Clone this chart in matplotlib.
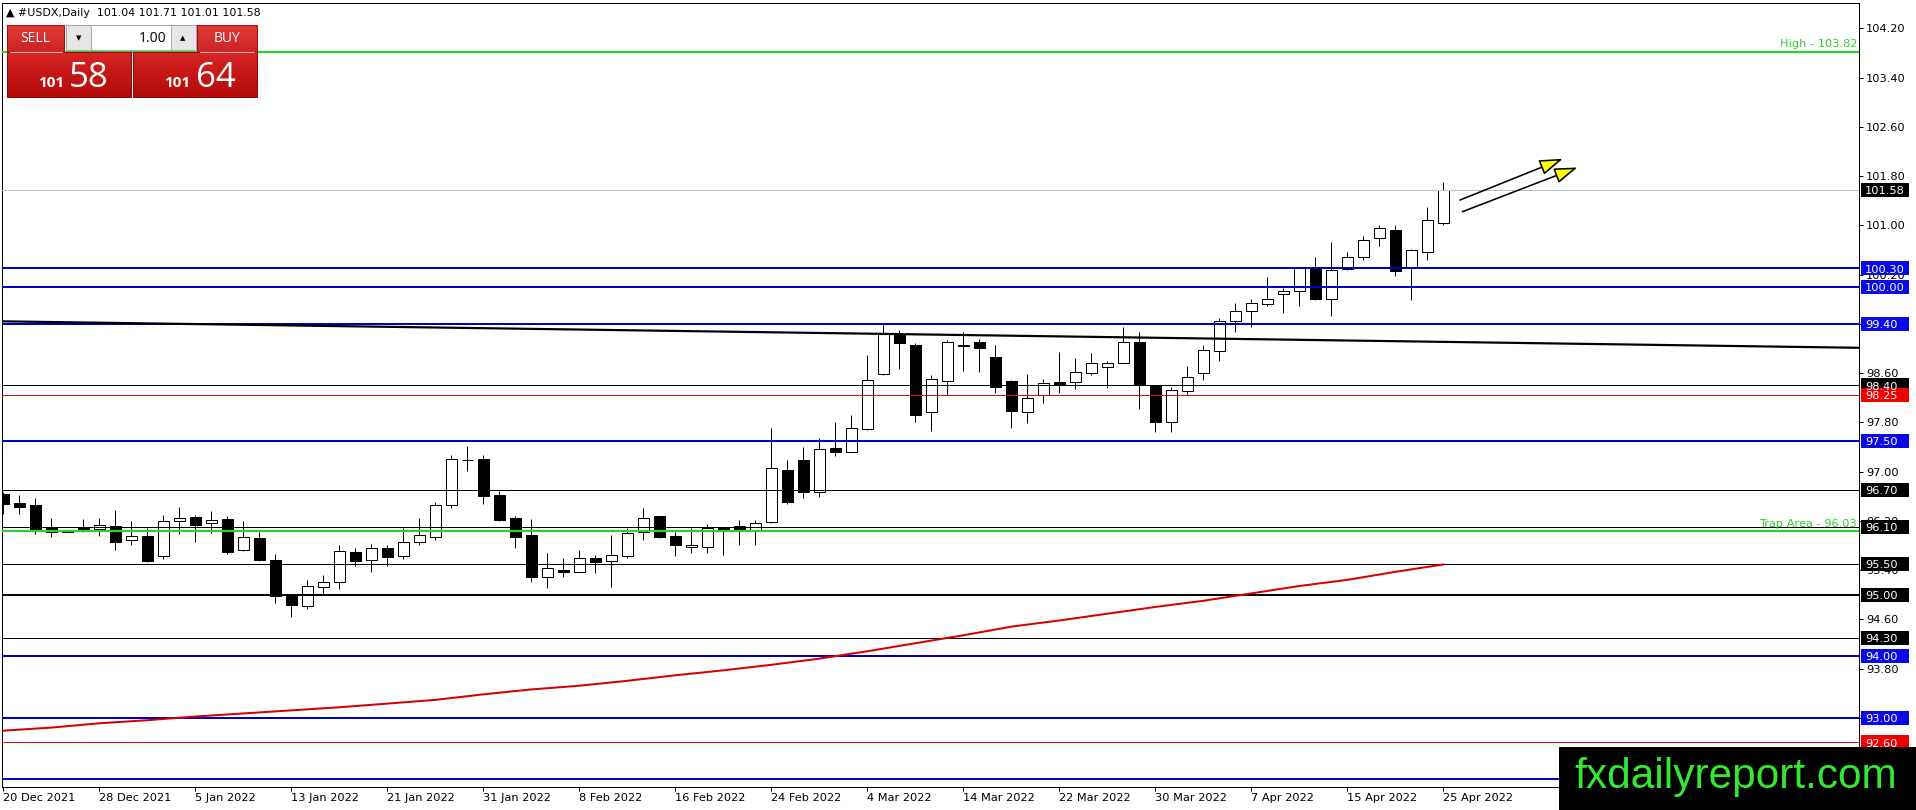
import numpy as np
import matplotlib
matplotlib.use("Agg")
import matplotlib.pyplot as plt
from matplotlib.patches import Rectangle
from matplotlib.colors import LinearSegmentedColormap

# daily candles, 20 Dec 2021 .. 25 Apr 2022
opens = [96.64, 96.49, 96.46, 96.09, 96.02, 96.09, 96.06, 96.12, 95.88, 95.95,
         95.62, 96.19, 96.26, 96.16, 96.23, 95.72, 95.92, 95.56, 94.97, 94.82,
         95.12, 95.21, 95.69, 95.57, 95.75, 95.62, 95.85, 95.94, 96.45, 97.18,
         97.20, 96.62, 96.24, 95.97, 95.29, 95.40, 95.37, 95.59, 95.54, 95.63,
         96.01, 96.28, 95.95, 95.77, 95.78, 96.09, 96.11, 96.05, 96.18, 97.03,
         97.19, 96.67, 97.38, 97.32, 97.69, 98.58, 99.23, 99.06, 97.96, 98.47,
         99.06, 99.10, 98.86, 98.47, 97.96, 98.25, 98.45, 98.45, 98.60, 98.70,
         98.77, 99.10, 98.40, 97.80, 98.30, 98.60, 98.95, 99.45, 99.60, 99.72,
         99.88, 99.94, 100.29, 99.81, 100.29, 100.49, 100.79, 100.93, 100.30, 100.57,
         101.04]
highs = [96.66, 96.62, 96.57, 96.24, 96.04, 96.23, 96.24, 96.38, 96.20, 96.08,
         96.29, 96.43, 96.29, 96.36, 96.28, 96.20, 96.02, 95.66, 94.97, 95.24,
         95.32, 95.81, 95.75, 95.82, 95.80, 96.09, 96.24, 96.51, 97.27, 97.42,
         97.27, 96.68, 96.27, 96.23, 95.67, 95.59, 95.73, 95.65, 95.97, 96.08,
         96.40, 96.28, 96.02, 96.08, 96.15, 96.10, 96.22, 96.21, 97.71, 97.19,
         97.40, 97.54, 97.80, 97.92, 98.89, 99.40, 99.30, 99.08, 98.57, 99.14,
         99.26, 99.16, 99.06, 98.49, 98.58, 98.50, 98.94, 98.84, 98.93, 98.80,
         99.35, 99.26, 98.40, 98.38, 98.71, 99.06, 99.49, 99.73, 99.80, 100.16,
         99.98, 100.33, 100.48, 100.73, 100.56, 100.83, 101.01, 101.01, 100.61, 101.30,
         101.71]
lows = [96.31, 96.31, 95.98, 95.94, 96.01, 96.01, 95.96, 95.72, 95.81, 95.53,
        95.58, 95.99, 95.85, 96.00, 95.66, 95.71, 95.54, 94.87, 94.63, 94.77,
        95.01, 95.09, 95.46, 95.37, 95.46, 95.58, 95.81, 95.88, 96.40, 97.01,
        96.48, 96.20, 95.76, 95.20, 95.10, 95.29, 95.36, 95.35, 95.13, 95.59,
        95.88, 95.92, 95.63, 95.67, 95.68, 95.65, 95.80, 95.81, 96.16, 96.48,
        96.57, 96.59, 97.26, 97.31, 97.68, 98.57, 98.67, 97.81, 97.66, 98.24,
        98.64, 98.61, 98.27, 97.70, 97.79, 98.12, 98.28, 98.34, 98.56, 98.36,
        98.77, 98.01, 97.65, 97.65, 98.26, 98.48, 98.80, 99.27, 99.35, 99.69,
        99.58, 99.69, 99.79, 99.53, 100.27, 100.43, 100.66, 100.18, 99.78, 100.43,
        101.01]
closes = [96.48, 96.42, 96.05, 96.01, 96.03, 96.05, 96.13, 95.86, 95.95, 95.54,
          96.20, 96.24, 96.13, 96.21, 95.70, 95.93, 95.56, 94.97, 94.83, 95.14,
          95.20, 95.71, 95.55, 95.75, 95.61, 95.85, 95.97, 96.46, 97.20, 97.19,
          96.61, 96.21, 95.94, 95.29, 95.44, 95.37, 95.59, 95.53, 95.65, 96.00,
          96.24, 95.94, 95.80, 95.80, 96.08, 96.07, 96.05, 96.16, 97.05, 96.50,
          96.67, 97.36, 97.32, 97.70, 98.49, 99.23, 99.08, 97.92, 98.50, 99.10,
          99.04, 99.00, 98.37, 97.99, 98.19, 98.43, 98.41, 98.61, 98.76, 98.77,
          99.11, 98.41, 97.80, 98.33, 98.53, 98.97, 99.44, 99.60, 99.73, 99.81,
          99.94, 100.30, 99.81, 100.27, 100.48, 100.76, 100.95, 100.26, 100.60, 101.09,
          101.58]

# red moving average, read every third bar
ma_idx = [0, 3, 6, 9, 12, 15, 18, 21, 24, 27, 30, 33, 36, 39, 42, 45,
          48, 51, 54, 57, 60, 63, 66, 69, 72, 75, 78, 81, 84, 87, 90]
ma_val = [92.79, 92.84, 92.91, 92.96, 93.02, 93.07, 93.12, 93.17, 93.23, 93.29,
          93.38, 93.46, 93.52, 93.60, 93.69, 93.77, 93.86, 93.96, 94.08, 94.21,
          94.34, 94.48, 94.58, 94.69, 94.80, 94.90, 95.02, 95.14, 95.24, 95.37, 95.49]

# long black trendline (end points)
trend_x = [-0.1, 115.98]
trend_y = [99.44, 99.01]

# horizontal levels
level_prices = [103.82, 101.58, 100.30, 100.00, 99.40, 98.40, 98.25, 97.50, 96.70,
                96.10, 96.03, 95.50, 95.00, 94.30, 94.00, 93.00, 92.60, 92.00]
level_kinds = ["green", "bid", "blue", "blue", "blue", "black", "red", "blue", "black",
               "black", "green", "black", "black2", "black", "blue", "blue", "red", "blue"]

# the two yellow arrows (start, end) in bar index / price
arrow_start = [(91.04, 101.41), (91.19, 101.22)]
arrow_end = [(97.46, 102.08), (98.38, 101.94)]

date_idx = [0, 6, 12, 18, 24, 30, 36, 42, 48, 54, 60, 66, 72, 78, 84, 90]
date_labels = ["20 Dec 2021", "28 Dec 2021", "5 Jan 2022", "13 Jan 2022", "21 Jan 2022",
               "31 Jan 2022", "8 Feb 2022", "16 Feb 2022", "24 Feb 2022", "4 Mar 2022",
               "14 Mar 2022", "22 Mar 2022", "30 Mar 2022", "7 Apr 2022", "15 Apr 2022",
               "25 Apr 2022"]
price_ticks = [104.2, 103.4, 102.6, 101.8, 101.0, 100.2, 99.4, 98.6, 97.8, 97.0,
               96.2, 95.4, 94.6, 93.8, 93.0, 92.2]

W, H = 1916, 810
PX = 0.72  # one pixel in points at dpi 100
BLUE_LINE = "#0000c8"
BLUE_BOX = "#0a0ae8"
RED = "#e01010"
GREEN = "#32cd32"
FS = 8.2

fig = plt.figure(figsize=(W / 100, H / 100), dpi=100)
fig.patch.set_facecolor("white")
ax = fig.add_axes([1.7 / W, 23 / H, (1859 - 1.7) / W, (787 - 2.7) / H])
ax.set_xlim(-0.1, 115.98)
ax.set_ylim(91.875, 104.616)
axw = (1859 - 1.7)

# candles
x = np.arange(len(opens))
o = np.array(opens)
c = np.array(closes)
up = c >= o
ax.vlines(x, lows, highs, color="black", lw=PX, zorder=2)
body_lo = np.minimum(o, c)
body_h = np.maximum(np.abs(c - o), 0.012)
ax.bar(x, body_h, bottom=body_lo, width=0.68,
       color=np.where(up, "white", "black"), edgecolor="black", lw=PX, zorder=3)

# levels
for p, k in zip(level_prices, level_kinds):
    if k == "green":
        ax.axhline(p, color=GREEN, lw=2.2 * PX, zorder=6)
    elif k == "bid":
        ax.axhline(p, color="#c0c0c0", lw=PX, zorder=5)
    elif k == "blue":
        ax.axhline(p, color=BLUE_LINE, lw=2 * PX, zorder=6)
    elif k == "red":
        ax.axhline(p, color=RED, lw=PX, zorder=6)
    elif k == "black2":
        ax.axhline(p, color="black", lw=2 * PX, zorder=6)
    else:
        ax.axhline(p, color="black", lw=PX, zorder=6)

ax.plot(ma_idx, ma_val, color="#d40000", lw=2 * PX, zorder=7)
ax.plot(trend_x, trend_y, color="black", lw=2.2 * PX, zorder=7)

ax.text(1 - 2 / axw, 103.82 + 0.04, "High - 103.82", transform=ax.get_yaxis_transform(),
        ha="right", va="bottom", fontsize=FS, color=GREEN, zorder=8)
ax.text(1 - 2 / axw, 96.03 + 0.04, "Trap Area - 96.03", transform=ax.get_yaxis_transform(),
        ha="right", va="bottom", fontsize=FS, color=GREEN, zorder=8)

for (x0, y0), (x1, y1) in zip(arrow_start, arrow_end):
    ax.annotate("", xy=(x1, y1), xytext=(x0, y0),
                arrowprops=dict(arrowstyle="-|>,head_length=0.95,head_width=0.32",
                                fc="#ffff00", ec="black", lw=1.6 * PX,
                                mutation_scale=15, shrinkA=0, shrinkB=0), zorder=9)

# axes styling
for s in ax.spines.values():
    s.set_color("black")
    s.set_linewidth(PX)
ax.yaxis.tick_right()
ax.set_yticks(price_ticks)
ax.set_yticklabels([f"{v:.2f}" for v in price_ticks])
ax.tick_params(axis="y", direction="out", length=4 * PX, width=PX, pad=2, labelsize=FS)
ax.set_xticks(date_idx)
ax.set_xticklabels(date_labels)
ax.tick_params(axis="x", direction="out", length=4 * PX, width=PX, pad=1.5, labelsize=FS)
for lbl in ax.get_xticklabels():
    lbl.set_horizontalalignment("left")

# price boxes on the right axis
box_colors = {"blue": BLUE_BOX, "black": "black", "black2": "black", "red": "#f00000", "bid": "black"}
ytr = ax.get_yaxis_transform()
for p, k in zip(level_prices, level_kinds):
    if k == "green":
        continue
    ax.add_patch(Rectangle((1 + 2 / axw, p - 0.113), 48 / axw, 0.226, transform=ytr,
                           facecolor=box_colors[k], edgecolor="none", clip_on=False, zorder=20))
    ax.text(1 + 6 / axw, p - 0.068, f"{p:.2f}", transform=ytr, ha="left", va="baseline",
            fontsize=FS, color="white", clip_on=False, zorder=21)

# overlay in pixel coordinates for the trading panel and the logo
ov = fig.add_axes([0, 0, 1, 1], zorder=30)
ov.set_facecolor("none")
ov.axis("off")


def grad_box(x0, y0, x1, y1, top, bottom, edge):
    cmap = LinearSegmentedColormap.from_list("g", [top, bottom])
    ov.imshow(np.linspace(0, 1, 32).reshape(-1, 1), cmap=cmap, aspect="auto",
              extent=(x0, x1, y1, y0), zorder=1, interpolation="bilinear")
    ov.add_patch(Rectangle((x0, y0), x1 - x0, y1 - y0, fill=False, ec=edge, lw=PX, zorder=2))


grad_box(6.7, 25, 64, 51.7, "#e03a38", "#cc2424", "#a01010")
grad_box(197, 25, 257, 51.7, "#e03a38", "#cc2424", "#a01010")
grad_box(6.7, 51.7, 130.7, 96.7, "#d82424", "#b30a0a", "#8c0a0a")
grad_box(133, 51.7, 257, 96.7, "#d82424", "#b30a0a", "#8c0a0a")
ov.plot([10, 62], [51.7, 51.7], color="#f0b0b0", lw=PX, zorder=3)
ov.plot([200, 254], [51.7, 51.7], color="#f0b0b0", lw=PX, zorder=3)
ov.add_patch(Rectangle((66, 25), 25, 25, fc="#e6e6e6", ec="#a8a8a8", lw=PX, zorder=2))
ov.add_patch(Rectangle((91, 25), 80, 25, fc="white", ec="#a8a8a8", lw=PX, zorder=2))
ov.add_patch(Rectangle((171, 25), 25, 25, fc="#e6e6e6", ec="#a8a8a8", lw=PX, zorder=2))
ov.text(79, 38, "▼", fontsize=5, ha="center", va="center", color="black", zorder=4)
ov.text(183, 38, "▲", fontsize=5, ha="center", va="center", color="black", zorder=4)
ov.text(166, 38.5, "1.00", fontsize=10, family="Open Sans", ha="right", va="center",
        color="black", zorder=4)
ov.text(35.5, 39, "SELL", fontsize=10, family="Open Sans", ha="center", va="center",
        color="white", zorder=4)
ov.text(227, 39, "BUY", fontsize=10, family="Open Sans", ha="center", va="center",
        color="white", zorder=4)
ov.text(38, 86.7, "101", fontsize=11, family="Open Sans", weight="bold", ha="left",
        va="baseline", color="white", zorder=4)
ov.text(69, 86.7, "58", fontsize=25, family="Open Sans", ha="left", va="baseline",
        color="white", zorder=4)
ov.text(164, 86.7, "101", fontsize=11, family="Open Sans", weight="bold", ha="left",
        va="baseline", color="white", zorder=4)
ov.text(196, 86.7, "64", fontsize=25, family="Open Sans", ha="left", va="baseline",
        color="white", zorder=4)

ov.text(6, 13.5, "▲ #USDX,Daily  101.04 101.71 101.01 101.58", fontsize=7.9,
        ha="left", va="center", color="black", zorder=4)

# logo
ov.add_patch(Rectangle((1559, 747), W - 1559, H - 747, fc="black", ec="none", zorder=5))
ov.text(1736, 788, "fxdailyreport.com", fontsize=30.5, family="Liberation Sans",
        ha="center", va="baseline", color="#33e833", zorder=6)

ov.set_xlim(0, W)
ov.set_ylim(H, 0)

fig.savefig("out.png", dpi=100, facecolor="white")
